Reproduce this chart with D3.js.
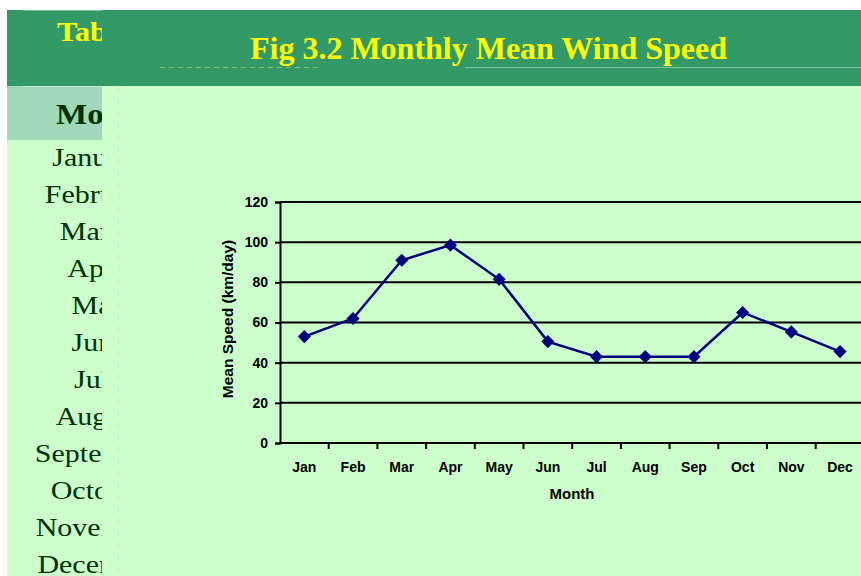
<!DOCTYPE html>
<html>
<head>
<meta charset="utf-8">
<script src="https://cdn.jsdelivr.net/npm/d3@7"></script>
<style>
  html, body { margin: 0; padding: 0; background: #ffffff; overflow: hidden; }
  svg { display: block; }
</style>
</head>
<body>
<div class="chart"></div>
<script>
"use strict";

// chart data
let months = ["Jan", "Feb", "Mar", "Apr", "May", "Jun", "Jul", "Aug", "Sep", "Oct", "Nov", "Dec"];
let meanSpeed = [53, 62, 91, 98.5, 81.5, 50.5, 43, 43, 43, 65, 55.3, 45.5];
let yTicks = [0, 20, 40, 60, 80, 100, 120];

// the table behind the chart (only its left edge shows)
let tableMonths = ["January", "February", "March", "April", "May", "June", "July",
                   "August", "September", "October", "November", "December"];

let W = 861, H = 576;
let navy = "#000080";
let serif = "Liberation Serif, Times New Roman, serif";
let font = "Liberation Sans, Arial, sans-serif";

let svg = d3.select(".chart").append("svg")
    .attr("width", W)
    .attr("height", H);

// ---------- background table ----------
svg.append("rect").attr("x", 7).attr("y", 10).attr("width", W - 7).attr("height", 76).attr("fill", "#339966");
svg.append("rect").attr("x", 7).attr("y", 86).attr("width", 100).attr("height", 54).attr("fill", "#9fd9ba");
svg.append("rect").attr("x", 7).attr("y", 140).attr("width", 100).attr("height", H - 140).attr("fill", "#ccffcc");
svg.append("line").attr("x1", 23).attr("x2", 102).attr("y1", 10.5).attr("y2", 10.5)
    .attr("stroke", "#7fbf9f").attr("stroke-width", 1);
svg.append("line").attr("x1", 23).attr("x2", 102).attr("y1", 86.5).attr("y2", 86.5)
    .attr("stroke", "#c5ead6").attr("stroke-width", 1);

svg.append("text")
    .attr("transform", "translate(57,41) scale(1.1,1)")
    .attr("font-family", serif)
    .attr("font-weight", "bold").attr("font-size", 28)
    .attr("fill", "#ffff00")
    .text("Table 3.2");

svg.append("text")
    .attr("transform", "translate(56,124) scale(1.1,1)")
    .attr("font-family", serif)
    .attr("font-weight", "bold").attr("font-size", 30)
    .attr("fill", "#003300")
    .text("Month");

svg.selectAll(".tmonth")
    .data(tableMonths)
    .enter().append("text")
    .attr("class", "tmonth")
    .attr("transform", function(d, i) { return "translate(99," + (166 + i * 37) + ") scale(1.2,1)"; })
    .attr("text-anchor", "middle")
    .attr("font-family", serif)
    .attr("font-size", 25)
    .attr("fill", "#003300")
    .text(function(d) { return d; });

// ---------- chart panel on top ----------
let panelX = 102;
svg.append("rect").attr("x", panelX).attr("y", 10).attr("width", W - panelX).attr("height", 76).attr("fill", "#339966");
svg.append("rect").attr("x", panelX).attr("y", 86).attr("width", W - panelX).attr("height", H - 86).attr("fill", "#ccffcc");

// faint cell borders showing through
svg.append("line").attr("x1", 118.5).attr("x2", 118.5).attr("y1", 86).attr("y2", H)
    .attr("stroke", "#c0eec6").attr("stroke-width", 1).attr("stroke-dasharray", "6,6");
svg.append("line").attr("x1", 465).attr("x2", W).attr("y1", 67.5).attr("y2", 67.5)
    .attr("stroke", "#7fc4a0").attr("stroke-width", 1);
svg.append("line").attr("x1", 160).attr("x2", 318).attr("y1", 67.5).attr("y2", 67.5)
    .attr("stroke", "#88bb55").attr("stroke-width", 1).attr("stroke-dasharray", "5,4");

svg.append("text")
    .attr("x", 250).attr("y", 59)
    .attr("textLength", 477).attr("lengthAdjust", "spacingAndGlyphs")
    .attr("font-family", serif)
    .attr("font-weight", "bold").attr("font-size", 31)
    .attr("fill", "#ffff00")
    .text("Fig 3.2 Monthly Mean Wind Speed");

// scales
let x = d3.scaleBand()
    .domain(months)
    .range([280, 280 + 12 * 48.7]);

let y = d3.scaleLinear()
    .domain([0, 120])
    .range([443, 202]);

// gridlines
svg.append("g").selectAll("line")
    .data(yTicks)
    .enter().append("line")
    .attr("x1", 280).attr("x2", W)
    .attr("y1", function(d) { return y(d); })
    .attr("y2", function(d) { return y(d); })
    .attr("stroke", "#000").attr("stroke-width", 2);

// y axis
let yAxis = svg.append("g")
    .attr("transform", "translate(280,0)")
    .call(d3.axisLeft(y).tickValues(yTicks).tickSize(5).tickPadding(7));
yAxis.select(".domain").attr("stroke", "#000").attr("stroke-width", 2);
yAxis.selectAll(".tick line").attr("stroke", "#000").attr("stroke-width", 2);
yAxis.selectAll(".tick text")
    .attr("font-family", font).attr("font-weight", "bold").attr("font-size", 14).attr("fill", "#000");

// x axis
let xAxis = svg.append("g")
    .attr("transform", "translate(0,443)")
    .call(d3.axisBottom(x).tickSize(0).tickPadding(19));
xAxis.select(".domain").remove();
xAxis.selectAll(".tick text")
    .attr("font-family", font).attr("font-weight", "bold").attr("font-size", 14).attr("fill", "#000");

// x tick marks at category boundaries
svg.append("g").selectAll("line")
    .data(months)
    .enter().append("line")
    .attr("x1", function(d) { return x(d) + x.bandwidth(); })
    .attr("x2", function(d) { return x(d) + x.bandwidth(); })
    .attr("y1", 443).attr("y2", 449)
    .attr("stroke", "#000").attr("stroke-width", 2);

// axis titles
svg.append("text")
    .attr("transform", "translate(233,319) rotate(-90)")
    .attr("text-anchor", "middle")
    .attr("font-family", font).attr("font-weight", "bold").attr("font-size", 15.5)
    .text("Mean Speed (km/day)");

svg.append("text")
    .attr("x", 572).attr("y", 499)
    .attr("text-anchor", "middle")
    .attr("font-family", font).attr("font-weight", "bold").attr("font-size", 15)
    .text("Month");

// series
let pts = months.map(function(m, i) { return {m: m, v: meanSpeed[i]}; });

let line = d3.line()
    .x(function(d) { return x(d.m) + x.bandwidth() / 2; })
    .y(function(d) { return y(d.v); });

svg.append("path")
    .datum(pts)
    .attr("d", line)
    .attr("fill", "none")
    .attr("stroke", navy)
    .attr("stroke-width", 2.5);

svg.append("g").selectAll("path")
    .data(pts)
    .enter().append("path")
    .attr("d", d3.symbol().type(d3.symbolDiamond2).size(110))
    .attr("transform", function(d) {
        return "translate(" + (x(d.m) + x.bandwidth() / 2) + "," + y(d.v) + ")";
    })
    .attr("fill", navy);
</script>
</body>
</html>
